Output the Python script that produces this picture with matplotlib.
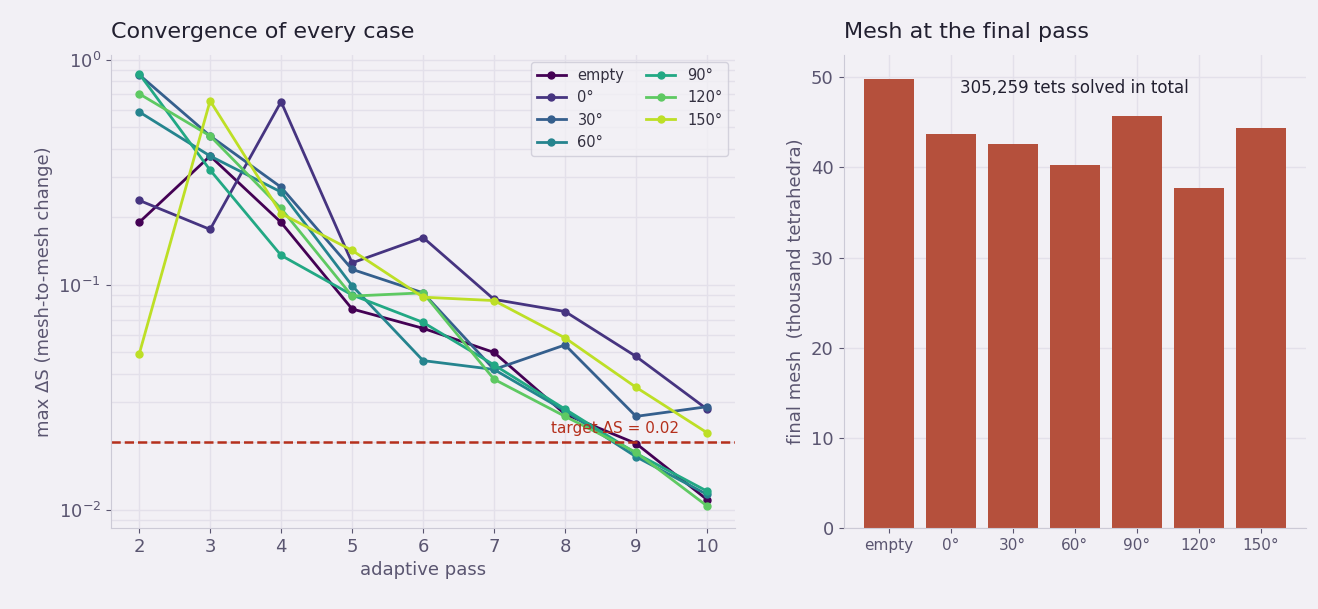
import matplotlib
matplotlib.use("Agg")
import matplotlib.pyplot as plt
import numpy as np

passes = [2, 3, 4, 5, 6, 7, 8, 9, 10]
cases = ["empty", "0°", "30°", "60°", "90°", "120°", "150°"]
dS_empty = [0.189, 0.373, 0.189, 0.078, 0.064, 0.050, 0.0266, 0.0197, 0.0111]
dS_0 = [0.237, 0.176, 0.65, 0.125, 0.162, 0.086, 0.076, 0.048, 0.028]
dS_30 = [0.857, 0.458, 0.271, 0.117, 0.092, 0.042, 0.054, 0.026, 0.0287]
dS_60 = [0.586, 0.373, 0.258, 0.099, 0.046, 0.042, 0.0275, 0.0172, 0.0117]
dS_90 = [0.866, 0.323, 0.135, 0.090, 0.068, 0.044, 0.028, 0.0178, 0.0121]
dS_120 = [0.705, 0.458, 0.218, 0.089, 0.092, 0.038, 0.026, 0.018, 0.0104]
dS_150 = [0.049, 0.656, 0.207, 0.142, 0.088, 0.085, 0.058, 0.035, 0.022]
series = [dS_empty, dS_0, dS_30, dS_60, dS_90, dS_120, dS_150]
final_mesh = [49.8, 43.7, 42.6, 40.3, 45.7, 37.7, 44.4]
target = 0.02

bg = "#f2f0f5"
txt = "#5a5570"
fig = plt.figure(figsize=(13.18, 6.09), dpi=100, facecolor=bg)
ax1 = fig.add_axes([0.084, 0.133, 0.474, 0.777], facecolor=bg)
ax2 = fig.add_axes([0.640, 0.133, 0.351, 0.777], facecolor=bg)

colors = plt.cm.viridis(np.linspace(0, 0.9, len(cases)))
for name, vals, c in zip(cases, series, colors):
    ax1.plot(passes, vals, "-o", color=c, lw=2, ms=5, label=name)
ax1.axhline(target, color="#b5301c", ls="--", lw=1.8)
ax1.text(9.6, 0.0212, "target ΔS = 0.02", color="#b5301c", ha="right", va="bottom", fontsize=11)
ax1.set_yscale("log")
ax1.set_ylim(0.0083, 1.05)
ax1.set_xlim(1.6, 10.4)
ax1.set_xticks(passes)
ax1.set_xlabel("adaptive pass", fontsize=13, color=txt)
ax1.set_ylabel("max ΔS (mesh-to-mesh change)", fontsize=13, color=txt)
ax1.set_title("Convergence of every case", fontsize=16, loc="left", color="#222030", pad=12)
ax1.grid(True, which="both", color="#e3e0ea", lw=1)
leg = ax1.legend(ncol=2, fontsize=10.5, loc="upper right", frameon=True, facecolor=bg,
                 edgecolor="#cccad6", labelcolor="#333040", columnspacing=1.5)

x = np.arange(len(cases))
ax2.bar(x, final_mesh, color="#b5503c", width=0.8)
ax2.set_xticks(x)
ax2.set_xticklabels(cases, fontsize=11)
ax2.set_ylim(0, 52.5)
ax2.set_xlim(-0.73, 6.73)
ax2.set_ylabel("final mesh  (thousand tetrahedra)", fontsize=13, color=txt)
ax2.set_title("Mesh at the final pass", fontsize=16, loc="left", color="#222030", pad=12)
ax2.text(0.5, 0.93, "305,259 tets solved in total", transform=ax2.transAxes, ha="center", va="center", fontsize=12, color="#222030")
ax2.grid(True, color="#e3e0ea", lw=1)
ax2.set_axisbelow(True)

for ax in (ax1, ax2):
    for s in ("top", "right"):
        ax.spines[s].set_visible(False)
    for s in ("left", "bottom"):
        ax.spines[s].set_color("#cccad6")
    ax.tick_params(colors=txt, labelsize=13, which="both")
    ax.tick_params(which="minor", length=0)
ax2.tick_params(axis="x", labelsize=11)

fig.savefig("out.png", dpi=100, facecolor=bg)
